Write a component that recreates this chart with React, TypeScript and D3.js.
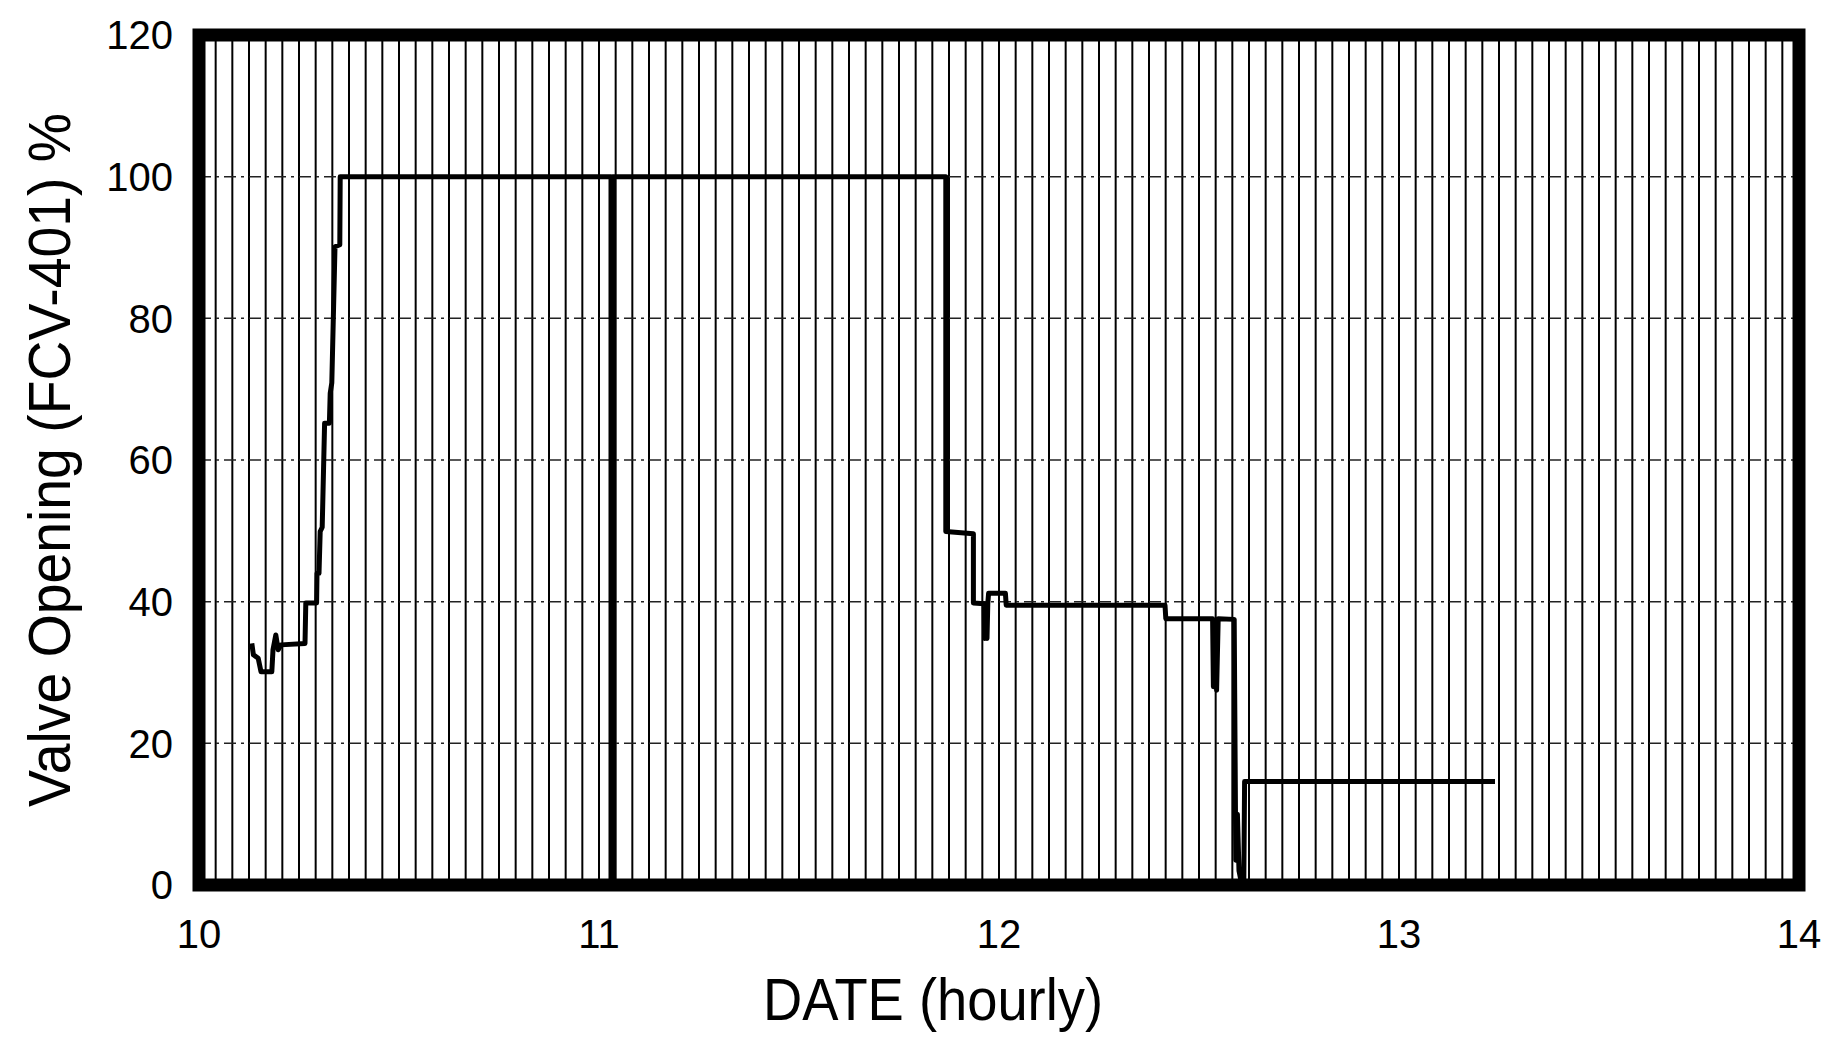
import React from "react";
import * as d3 from "d3";

// hourly axis, values
const xTicks = [10, 11, 12, 13, 14];
const yTicks = [0, 20, 40, 60, 80, 100, 120];

// time in hours, valve opening in %
const hours = [
  10.132, 10.136, 10.148, 10.155, 10.182, 10.185, 10.192, 10.198, 10.205, 10.265,
  10.267, 10.294, 10.295, 10.3, 10.303, 10.308, 10.314, 10.326, 10.328, 10.332,
  10.34, 10.352, 10.353, 11.03, 11.03, 11.034, 11.034, 11.867, 11.867, 11.936,
  11.936, 11.963, 11.964, 11.968, 11.97, 11.972, 11.974, 12.016, 12.018, 12.415,
  12.417, 12.534, 12.536, 12.54, 12.544, 12.548, 12.588, 12.592, 12.596, 12.6,
  12.606, 12.612, 12.614, 13.24,
];
const opening = [
  34.1, 32.5, 32.0, 30.1, 30.1, 33.2, 35.3, 33.2, 33.9, 34.1,
  39.8, 39.8, 44, 44, 49.9, 50.5, 65.2, 65.2, 69.4, 70.9,
  90.1, 90.4, 100, 100, 0, 0, 100, 100, 49.9, 49.6,
  39.8, 39.7, 34.8, 39, 34.8, 39.7, 41.2, 41.2, 39.5, 39.5,
  37.6, 37.6, 28, 37, 27.5, 37.6, 37.5, 3.5, 10, 2,
  0.3, 0.3, 14.6, 14.6,
];

const W = 1834;
const H = 1037;
const left = 199;
const right = 1799;
const top = 35;
const bottom = 885;

export default function App() {
  const x = d3.scaleLinear().domain([10, 14]).range([left, right]);
  const y = d3.scaleLinear().domain([0, 120]).range([bottom, top]);

  // vertical grid every 1/24 hour
  const vGrid = d3.range(1, 96).map((i) => 10 + i / 24);
  const hGrid = yTicks.filter((t) => t > 0 && t < 120);

  const pts = hours.map((h, i) => [h, opening[i]] as [number, number]);
  const path = d3
    .line<[number, number]>()
    .x((d) => x(d[0]))
    .y((d) => y(d[1]))(pts);

  const font = "'Liberation Sans', Arial, sans-serif";

  return (
    <svg
      width={W}
      height={H}
      style={{ position: "absolute", left: 0, top: 0, background: "#fff" }}
    >
      <rect x={0} y={0} width={W} height={H} fill="#fff" />
      {vGrid.map((g, i) => (
        <line
          key={"v" + i}
          x1={x(g)}
          x2={x(g)}
          y1={top}
          y2={bottom}
          stroke="#000"
          strokeWidth={2}
        />
      ))}
      {hGrid.map((t) => (
        <line
          key={"h" + t}
          x1={left}
          x2={right}
          y1={y(t)}
          y2={y(t)}
          stroke="#222"
          strokeWidth={1.5}
          strokeDasharray="12 5 3 5"
        />
      ))}
      <path
        d={path || ""}
        fill="none"
        stroke="#000"
        strokeWidth={5}
        strokeLinejoin="round"
      />
      <rect
        x={left}
        y={top}
        width={right - left}
        height={bottom - top}
        fill="none"
        stroke="#000"
        strokeWidth={13}
      />
      {yTicks.map((t) => (
        <text
          key={"yt" + t}
          x={173}
          y={y(t)}
          dy="0.36em"
          textAnchor="end"
          fontFamily={font}
          fontSize={40}
          fill="#000"
        >
          {t}
        </text>
      ))}
      {xTicks.map((t) => (
        <text
          key={"xt" + t}
          x={x(t)}
          y={948}
          textAnchor="middle"
          fontFamily={font}
          fontSize={40}
          fill="#000"
        >
          {t}
        </text>
      ))}
      <text
        x={933}
        y={1020}
        textAnchor="middle"
        fontFamily={font}
        fontSize={60}
        textLength={340}
        lengthAdjust="spacingAndGlyphs"
        fill="#000"
      >
        DATE (hourly)
      </text>
      <text
        transform="translate(70,460) rotate(-90)"
        textAnchor="middle"
        fontFamily={font}
        fontSize={60}
        textLength={694}
        lengthAdjust="spacingAndGlyphs"
        fill="#000"
      >
        Valve Opening (FCV-401) %
      </text>
    </svg>
  );
}
